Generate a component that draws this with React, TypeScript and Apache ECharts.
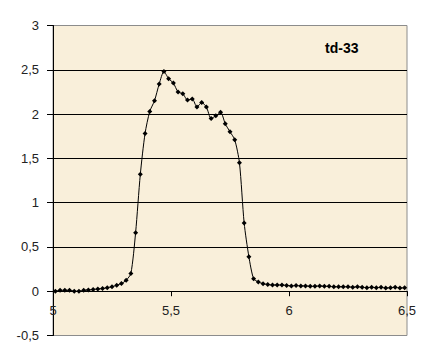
import React, { useEffect, useRef } from "react";
import * as echarts from "echarts";

const title = "td-33";

const xValues = [
  5.01, 5.03, 5.05, 5.07, 5.09, 5.11, 5.13, 5.15, 5.17, 5.19,
  5.21, 5.23, 5.25, 5.27, 5.29, 5.31, 5.33, 5.35, 5.37, 5.39,
  5.41, 5.43, 5.45, 5.47, 5.49, 5.51, 5.53, 5.55, 5.57, 5.59,
  5.61, 5.63, 5.65, 5.67, 5.69, 5.71, 5.73, 5.75, 5.77, 5.79,
  5.81, 5.83, 5.85, 5.87, 5.89, 5.91, 5.93, 5.95, 5.97, 5.99,
  6.01, 6.03, 6.05, 6.07, 6.09, 6.11, 6.13, 6.15, 6.17, 6.19,
  6.21, 6.23, 6.25, 6.27, 6.29, 6.31, 6.33, 6.35, 6.37, 6.39,
  6.41, 6.43, 6.45, 6.47, 6.49,
];

const yValues = [
  0.0, 0.01, 0.01, 0.01, 0.0, 0.0, 0.01, 0.015, 0.02, 0.025,
  0.03, 0.04, 0.05, 0.068, 0.086, 0.124, 0.2, 0.66, 1.32, 1.78,
  2.03, 2.15, 2.34, 2.48, 2.4, 2.35, 2.25, 2.23, 2.16, 2.17,
  2.08, 2.13, 2.08, 1.95, 1.98, 2.02, 1.89, 1.8, 1.71, 1.45,
  0.77, 0.39, 0.14, 0.105, 0.085, 0.075, 0.07, 0.07, 0.07, 0.065,
  0.06, 0.065, 0.06, 0.06, 0.055, 0.055, 0.06, 0.055, 0.055, 0.05,
  0.05, 0.05, 0.05, 0.045, 0.05, 0.045, 0.04, 0.045, 0.04, 0.045,
  0.035, 0.04, 0.045, 0.035, 0.04,
];

const yMin = -0.5;
const yMax = 3;
const fmt = (v: number) => String(v).replace(".", ",");

export default function App() {
  const ref = useRef<HTMLDivElement>(null);
  useEffect(() => {
    if (!ref.current) return;
    const chart = echarts.init(ref.current, undefined, { renderer: "svg" });
    const font = "Liberation Sans, Arial, sans-serif";
    const gridTop = 25.5;
    const gridBottom = 27.5;
    const plotH = 363 - gridTop - gridBottom;
    const zeroOffset = -((0 - yMin) / (yMax - yMin)) * plotH;
    chart.setOption({
      animation: false,
      backgroundColor: "#ffffff",
      graphic: [
        {
          type: "text",
          left: 325,
          top: 41,
          style: {
            text: title,
            font: `bold 14px ${font}`,
            fill: "#000",
          },
          z: 100,
        },
      ],
      grid: [
        {
          left: 53,
          right: 26,
          top: gridTop,
          bottom: gridBottom,
          show: true,
          backgroundColor: "#F9EFDA",
          borderColor: "#8c8c8c",
          borderWidth: 1,
        },
        {
          left: 3.5,
          right: 5.5,
          top: 5.5,
          bottom: 5.5,
          show: true,
          backgroundColor: "transparent",
          borderColor: "#000",
          borderWidth: 1,
        },
      ],
      xAxis: [
        {
          type: "value",
          gridIndex: 0,
          min: 5,
          max: 6.5,
          interval: 0.5,
          offset: zeroOffset,
          axisLine: { show: true, onZero: false, lineStyle: { color: "#000", width: 1 } },
          axisTick: { show: true, length: 5, lineStyle: { color: "#000" } },
          axisLabel: {
            margin: 13,
            color: "#222",
            fontFamily: font,
            fontSize: 13,
            formatter: (v: number) => fmt(v),
          },
          splitLine: { show: false },
        },
        { type: "value", gridIndex: 1, show: false },
      ],
      yAxis: [
        {
          type: "value",
          gridIndex: 0,
          min: yMin,
          max: yMax,
          interval: 0.5,
          axisLine: { show: true, onZero: false, lineStyle: { color: "#000", width: 1 } },
          axisTick: { show: true, length: 6, lineStyle: { color: "#000" } },
          axisLabel: {
            margin: 14,
            color: "#222",
            fontFamily: font,
            fontSize: 13,
            formatter: (v: number) => fmt(v),
          },
          splitLine: {
            show: true,
            showMinLine: false,
            showMaxLine: false,
            lineStyle: { color: "#000", width: 1 },
          },
        },
        { type: "value", gridIndex: 1, show: false },
      ],
      series: [
        {
          type: "line",
          xAxisIndex: 0,
          yAxisIndex: 0,
          data: xValues.map((x, i) => [x, yValues[i]]),
          smooth: 0.25,
          symbol: "diamond",
          symbolSize: 5,
          showSymbol: true,
          itemStyle: { color: "#000" },
          lineStyle: { color: "#000", width: 1 },
        },
      ],
    });
    return () => chart.dispose();
  }, []);
  return <div ref={ref} style={{ width: 433, height: 363, margin: -8 }} />;
}
